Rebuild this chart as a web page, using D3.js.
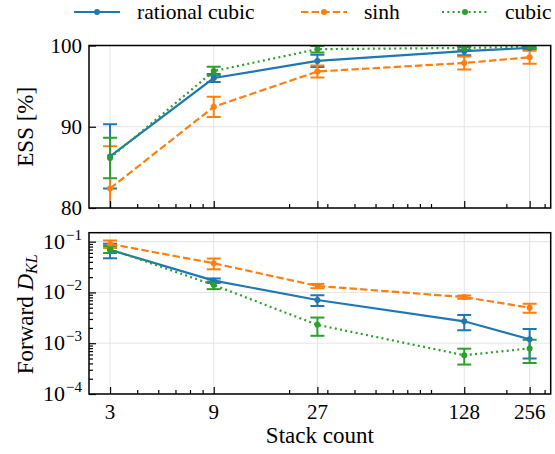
<!DOCTYPE html>
<html>
<head>
<meta charset="utf-8">
<script src="https://cdn.jsdelivr.net/npm/d3@7"></script>
<style>
  html, body { margin: 0; padding: 0; background: #fff; }
  svg { display: block; }
  svg text { font-family: "Liberation Serif", "DejaVu Serif", serif; fill: #000; }
</style>
</head>
<body>
<svg id="chart" width="555" height="454"></svg>
<script>
// Stack counts on the shared x axis
const categories = [3, 9, 27, 128, 256];
const xTickLabels = ["3", "9", "27", "128", "256"];

// Effective sample size (%) with one-sigma errors
const essRational = [86.35, 96.0, 98.1, 99.3, 99.7];
const essRationalErr = [3.95, 0.5, 0.75, 0.5, 0.2];
const essSinh = [82.4, 92.45, 96.8, 97.85, 98.55];
const essSinhErr = [5.2, 1.25, 0.75, 0.8, 0.8];
const essCubic = [86.15, 96.85, 99.55, 99.7, 99.85];
const essCubicErr = [2.5, 0.55, 0.4, 0.25, 0.15];

// Forward KL divergence with one-sigma errors
const klRational = [0.069, 0.0171, 0.0071, 0.0027, 0.0012];
const klRationalErr = [0.022, 0.0017, 0.0017, 0.0009, 0.0007];
const klSinh = [0.09, 0.0375, 0.0134, 0.0081, 0.0050];
const klSinhErr = [0.015, 0.009, 0.0013, 0.0006, 0.001];
const klCubic = [0.071, 0.0140, 0.0023, 0.00058, 0.00079];
const klCubicErr = [0.011, 0.0024, 0.0009, 0.0002, 0.00038];

const essTicks = [80, 90, 100];
const klTicks = [1e-4, 1e-3, 1e-2, 1e-1];
const klTickExps = ["−4", "−3", "−2", "−1"];

const seriesNames = ["rational cubic", "sinh", "cubic"];
const colors = ["#1f77b4", "#ff7f0e", "#2ca02c"];
const dashes = [null, "7.4,3.2", "2,3.3"];

const FONT = "Liberation Serif, DejaVu Serif, serif";
const svg = d3.select("#chart");
const left = 89, right = 550.7;
const topPanel = { y0: 45.5, y1: 208 };
const botPanel = { y0: 232.7, y1: 394 };

const x = d3.scaleLog().domain([2.4, 320]).range([left, right]);
const yEss = d3.scaleLinear().domain([80, 100]).range([topPanel.y1, topPanel.y0]);
const yKl = d3.scaleLog().domain([1e-4, 0.15]).range([botPanel.y1, botPanel.y0]);

// minor log ticks on x: 2..9 x 10^k within the domain
const xMinor = [];
for (let k = 0; k <= 2; k++) for (let m = 2; m <= 9; m++) {
  const v = m * Math.pow(10, k);
  if (v >= 2.4 && v <= 320 && !categories.includes(v)) xMinor.push(v);
}
const yMinor = [];
for (let k = -4; k <= -1; k++) for (let m = 2; m <= 9; m++) {
  const v = m * Math.pow(10, k);
  if (v <= 0.15) yMinor.push(v);
}

function panel(id, p, y, yTicks, yMinorTicks, series) {
  const g = svg.append("g");
  const clipId = "clip-" + id;
  svg.append("clipPath").attr("id", clipId)
    .append("rect").attr("x", left).attr("y", p.y0)
    .attr("width", right - left).attr("height", p.y1 - p.y0);

  // grid
  g.append("g").selectAll("line").data(categories).join("line")
    .attr("x1", d => x(d)).attr("x2", d => x(d))
    .attr("y1", p.y0).attr("y2", p.y1)
    .attr("stroke", "#e4e4e4").attr("stroke-width", 1);
  g.append("g").selectAll("line").data(yTicks).join("line")
    .attr("x1", left).attr("x2", right)
    .attr("y1", d => y(d)).attr("y2", d => y(d))
    .attr("stroke", "#e4e4e4").attr("stroke-width", 1);

  const plot = g.append("g").attr("clip-path", `url(#${clipId})`);

  // error bars first, then lines and markers
  series.forEach((s, i) => {
    const eb = plot.append("g").attr("stroke", colors[i]).attr("stroke-width", 2);
    categories.forEach((c, j) => {
      const cx = x(c);
      const lo = y(Math.max(s.v[j] - s.e[j], 1e-9));
      const hi = y(s.v[j] + s.e[j]);
      eb.append("line").attr("x1", cx).attr("x2", cx).attr("y1", lo).attr("y2", hi);
      eb.append("line").attr("x1", cx - 7).attr("x2", cx + 7).attr("y1", lo).attr("y2", lo);
      eb.append("line").attr("x1", cx - 7).attr("x2", cx + 7).attr("y1", hi).attr("y2", hi);
    });
  });
  series.forEach((s, i) => {
    const line = d3.line().x((d, j) => x(categories[j])).y(d => y(d));
    plot.append("path").datum(s.v).attr("d", line)
      .attr("fill", "none").attr("stroke", colors[i]).attr("stroke-width", 2.2)
      .attr("stroke-dasharray", dashes[i]);
    plot.append("g").selectAll("circle").data(s.v).join("circle")
      .attr("cx", (d, j) => x(categories[j])).attr("cy", d => y(d))
      .attr("r", 3).attr("fill", colors[i]);
  });

  // inward ticks
  const xAxis = d3.axisBottom(x).tickValues(categories).tickSize(-7).tickFormat("");
  const xAxisMinor = d3.axisBottom(x).tickValues(xMinor).tickSize(-4).tickFormat("");
  g.append("g").attr("transform", `translate(0,${p.y1})`).call(xAxis);
  g.append("g").attr("transform", `translate(0,${p.y1})`).call(xAxisMinor);
  const yAxis = d3.axisLeft(y).tickValues(yTicks).tickSize(-7).tickFormat("");
  g.append("g").attr("transform", `translate(${left},0)`).call(yAxis);
  if (yMinorTicks.length) {
    g.append("g").attr("transform", `translate(${left},0)`)
      .call(d3.axisLeft(y).tickValues(yMinorTicks).tickSize(-4).tickFormat(""));
  }
  g.selectAll(".domain").remove();
  g.selectAll(".tick line").attr("stroke", "#000").attr("stroke-width", 1.2);

  // frame
  g.append("rect").attr("x", left).attr("y", p.y0)
    .attr("width", right - left).attr("height", p.y1 - p.y0)
    .attr("fill", "none").attr("stroke", "#000").attr("stroke-width", 1.5);
  return g;
}

const gTop = panel("ess", topPanel, yEss, essTicks, [], [
  { v: essRational, e: essRationalErr },
  { v: essSinh, e: essSinhErr },
  { v: essCubic, e: essCubicErr }
]);
const gBot = panel("kl", botPanel, yKl, klTicks, yMinor, [
  { v: klRational, e: klRationalErr },
  { v: klSinh, e: klSinhErr },
  { v: klCubic, e: klCubicErr }
]);

// y tick labels, top panel
gTop.append("g").selectAll("text").data(essTicks).join("text")
  .attr("x", 82).attr("y", d => yEss(d) + 7)
  .attr("text-anchor", "end").attr("font-size", 21).attr("font-family", FONT)
  .text(d => d);

// y tick labels, bottom panel (powers of ten)
const kl = gBot.append("g").selectAll("text").data(klTicks).join("text")
  .attr("x", 82).attr("y", d => yKl(d) + 7)
  .attr("text-anchor", "end").attr("font-size", 22).attr("font-family", FONT);
kl.append("tspan").text("10");
kl.append("tspan").attr("font-size", 15).attr("dx", 1).attr("dy", -9)
  .text((d, i) => klTickExps[i]);

// x tick labels
gBot.append("g").selectAll("text").data(categories).join("text")
  .attr("x", d => x(d)).attr("y", botPanel.y1 + 24.5)
  .attr("text-anchor", "middle").attr("font-size", 21).attr("font-family", FONT)
  .text((d, i) => xTickLabels[i]);

// axis titles
svg.append("text").attr("transform", `translate(33,${(topPanel.y0 + topPanel.y1) / 2}) rotate(-90)`)
  .attr("text-anchor", "middle").attr("font-size", 23).attr("font-family", FONT).text("ESS [%]");
const kt = svg.append("text")
  .attr("transform", `translate(33,${(botPanel.y0 + botPanel.y1) / 2 + 1}) rotate(-90)`)
  .attr("text-anchor", "middle").attr("font-size", 23).attr("font-family", FONT);
kt.append("tspan").text("Forward ");
kt.append("tspan").attr("font-style", "italic").text("D");
kt.append("tspan").attr("font-style", "italic").attr("font-size", 16).attr("dy", 4).text("KL");
svg.append("text").attr("x", (left + right) / 2).attr("y", 443)
  .attr("text-anchor", "middle").attr("font-size", 23).attr("font-family", FONT).text("Stack count");

// legend across the top
const legendX = [74, 301, 442];
const leg = svg.append("g");
seriesNames.forEach((name, i) => {
  const lx = legendX[i];
  leg.append("line").attr("x1", lx).attr("x2", lx + 46).attr("y1", 12).attr("y2", 12)
    .attr("stroke", colors[i]).attr("stroke-width", 2.2).attr("stroke-dasharray", dashes[i]);
  leg.append("circle").attr("cx", lx + 23).attr("cy", 12).attr("r", 3).attr("fill", colors[i]);
  leg.append("text").attr("x", lx + 63).attr("y", 18.8).attr("font-size", 21.5)
    .attr("font-family", FONT).text(name);
});
</script>
</body>
</html>
